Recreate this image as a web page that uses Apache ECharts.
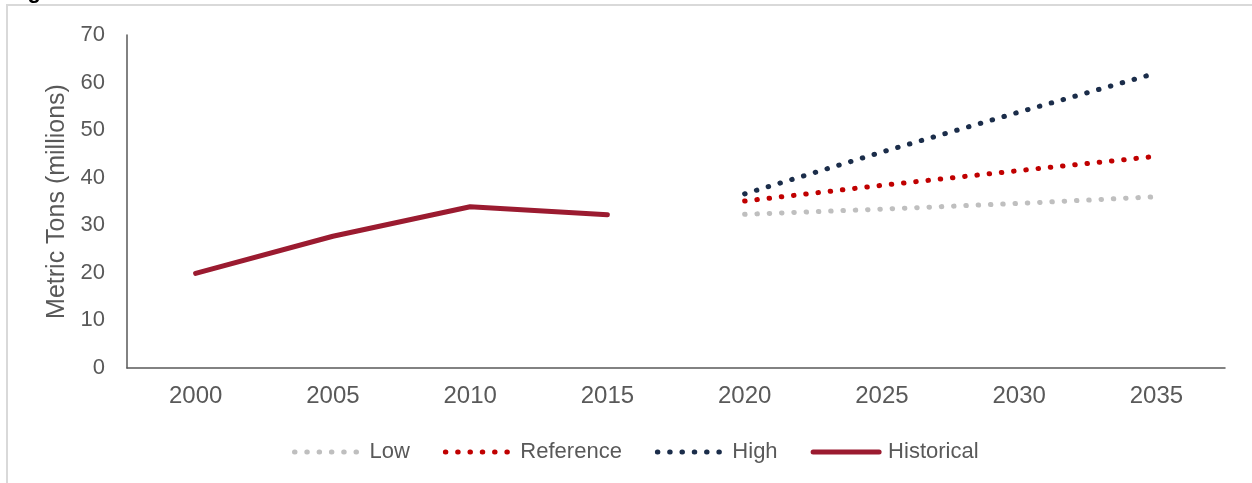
<!DOCTYPE html>
<html>
<head>
<meta charset="utf-8">
<script src="https://cdn.jsdelivr.net/npm/echarts@6/dist/echarts.min.js"></script>
<style>
  html, body { margin: 0; padding: 0; background: #fff; }
  #chart { width: 1252px; height: 483px; }
</style>
</head>
<body>
<div id="chart"></div>
<script>
const years = ['2000', '2005', '2010', '2015', '2020', '2025', '2030', '2035']
const historical = [19.9, 27.7, 33.9, 32.2, null, null, null, null]
const low = [null, null, null, null, 32.3, 33.4, 34.6, 36.0]
const reference = [null, null, null, null, 35.1, 38.4, 41.5, 44.5]
const high = [null, null, null, null, 36.6, 45.4, 53.8, 62.0]
const yTicks = [0, 10, 20, 30, 40, 50, 60, 70]

const textColor = '#595959'
const font = 'Liberation Sans, Arial, sans-serif'

function dotted(name, data, color) {
  return {
    name: name,
    type: 'line',
    data: data,
    symbol: 'none',
    showSymbol: false,
    lineStyle: {
      color: color,
      width: 5,
      type: [0.5, 11.8],
      cap: 'round'
    },
    itemStyle: { color: color }
  }
}

const chart = echarts.init(document.getElementById('chart'), null, { renderer: 'canvas' })

chart.setOption({
  animation: false,
  textStyle: { fontFamily: font },
  grid: {
    left: 127,
    right: 27,
    top: 35,
    bottom: 115
  },
  graphic: [
    {
      type: 'rect',
      shape: { x: 7, y: 5, width: 1300, height: 600 },
      style: { fill: 'none', stroke: '#D9D9D9', lineWidth: 2 },
      silent: true
    },
    {
      type: 'text',
      x: 8,
      y: 3,
      style: {
        text: 'Figure',
        fill: '#000',
        font: 'bold 22px Liberation Sans, Arial, sans-serif',
        verticalAlign: 'bottom'
      },
      silent: true
    }
  ],
  legend: {
    left: 287,
    top: 436,
    itemWidth: 66,
    itemHeight: 14,
    itemGap: 33,
    itemStyle: { opacity: 0 },
    lineStyle: { width: 5, cap: 'round' },
    textStyle: {
      color: textColor,
      fontSize: 22,
      fontFamily: font,
      padding: [0, 0, 0, 4]
    },
    data: ['Low', 'Reference', 'High', 'Historical']
  },
  xAxis: {
    type: 'category',
    data: years,
    boundaryGap: true,
    axisTick: { show: false },
    axisLine: { lineStyle: { color: textColor, width: 1.5 } },
    axisLabel: { color: textColor, fontSize: 24, margin: 16 }
  },
  yAxis: {
    type: 'value',
    min: yTicks[0],
    max: yTicks[yTicks.length - 1],
    interval: 10,
    name: 'Metric Tons (millions)',
    nameLocation: 'middle',
    nameGap: 56,
    nameTextStyle: { color: textColor, fontSize: 25 },
    axisLine: { show: true, lineStyle: { color: textColor, width: 1.5 } },
    axisTick: { show: false },
    splitLine: { show: false },
    axisLabel: { color: textColor, fontSize: 22, margin: 22 }
  },
  series: [
    dotted('Low', low, '#BFBFBF'),
    dotted('Reference', reference, '#C00000'),
    dotted('High', high, '#1B2D4A'),
    {
      name: 'Historical',
      type: 'line',
      data: historical,
      symbol: 'none',
      showSymbol: false,
      lineStyle: { color: '#9B1B30', width: 5, cap: 'round', join: 'round' },
      itemStyle: { color: '#9B1B30' }
    }
  ]
})
</script>
</body>
</html>
